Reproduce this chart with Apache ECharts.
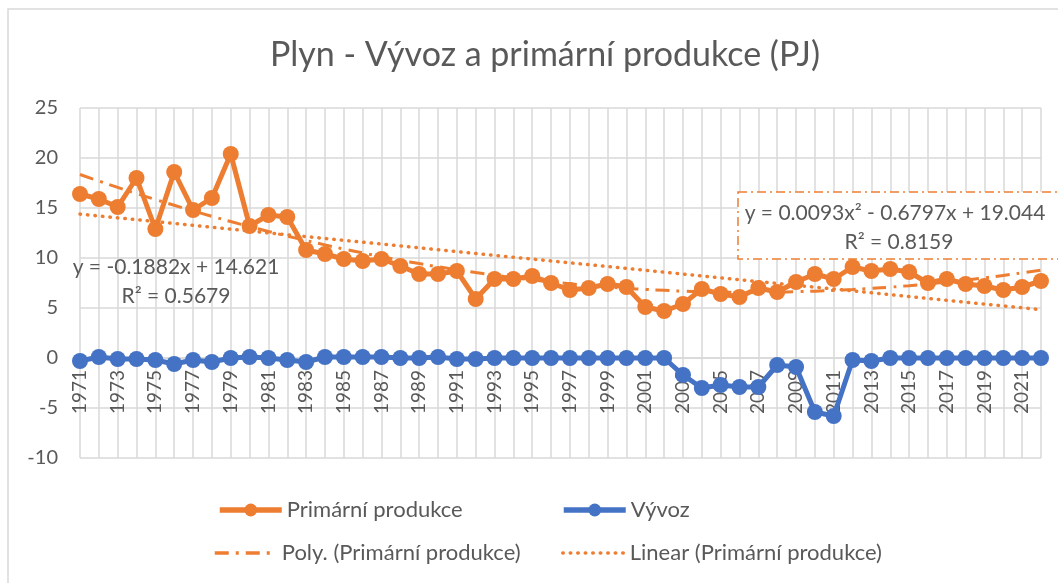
<!DOCTYPE html>
<html>
<head>
<meta charset="utf-8">
<script src="https://cdn.jsdelivr.net/npm/echarts@6/dist/echarts.min.js"></script>
<style>
  html, body { margin: 0; padding: 0; background: #fff; }
  #chart { width: 1058px; height: 583px; }
</style>
</head>
<body>
<div id="chart"></div>
<script>
// roky 1971 - 2022
var years = [];
for (var y = 1971; y <= 2022; y++) years.push(String(y));

// (PJ)
var produkce = [
  16.4, 15.9, 15.1, 18.0, 12.9, 18.6, 14.8, 16.0, 20.4, 13.2,
  14.3, 14.1, 10.8, 10.4, 9.9, 9.7, 9.9, 9.2, 8.4, 8.4,
  8.7, 5.9, 7.9, 7.9, 8.2, 7.5, 6.8, 7.0, 7.4, 7.1,
  5.1, 4.7, 5.4, 6.9, 6.4, 6.1, 7.0, 6.6, 7.6, 8.4,
  7.9, 9.1, 8.7, 8.9, 8.6, 7.5, 7.9, 7.4, 7.2, 6.8,
  7.1, 7.7
];
var vyvoz = [
  -0.3, 0.1, -0.1, -0.1, -0.2, -0.6, -0.2, -0.4, 0.0, 0.1,
  0.0, -0.2, -0.4, 0.1, 0.1, 0.1, 0.1, 0.0, 0.0, 0.1,
  -0.1, -0.1, 0.0, 0.0, 0.0, 0.0, 0.0, 0.0, 0.0, 0.0,
  0.0, 0.0, -1.7, -3.0, -2.7, -2.9, -2.9, -0.7, -0.9, -5.4,
  -5.8, -0.2, -0.3, 0.0, 0.0, 0.0, 0.0, 0.0, 0.0, 0.0,
  0.0, 0.0
];
var yTicks = [-10, -5, 0, 5, 10, 15, 20, 25];

var linText = ['y = -0.1882x + 14.621', 'R\u00b2 = 0.5679'];
var polyText = ['y = 0.0093x\u00b2 - 0.6797x + 19.044', 'R\u00b2 = 0.8159'];

// trendy spočtené z dat (nejmenší čtverce, x = 1..n jako v Excelu)
function fitLinear(v) {
  var n = v.length, sx = 0, sy = 0, sxx = 0, sxy = 0;
  for (var i = 0; i < n; i++) {
    var x = i + 1;
    sx += x; sy += v[i]; sxx += x * x; sxy += x * v[i];
  }
  var b = (n * sxy - sx * sy) / (n * sxx - sx * sx);
  var a = (sy - b * sx) / n;
  return v.map(function (_, i) { return +(a + b * (i + 1)).toFixed(3); });
}
function fitPoly2(v) {
  var n = v.length, s = [0, 0, 0, 0, 0], t = [0, 0, 0];
  for (var i = 0; i < n; i++) {
    var x = i + 1, p = 1;
    for (var k = 0; k < 5; k++) { s[k] += p; if (k < 3) t[k] += p * v[i]; p *= x; }
  }
  // soustava 3x3, Gauss
  var m = [
    [s[0], s[1], s[2], t[0]],
    [s[1], s[2], s[3], t[1]],
    [s[2], s[3], s[4], t[2]]
  ];
  for (var c = 0; c < 3; c++) {
    for (var r = c + 1; r < 3; r++) {
      var f = m[r][c] / m[c][c];
      for (var j = c; j < 4; j++) m[r][j] -= f * m[c][j];
    }
  }
  var coef = [0, 0, 0];
  for (var r2 = 2; r2 >= 0; r2--) {
    var sum = m[r2][3];
    for (var j2 = r2 + 1; j2 < 3; j2++) sum -= m[r2][j2] * coef[j2];
    coef[r2] = sum / m[r2][r2];
  }
  return v.map(function (_, i) {
    var x = i + 1;
    return +(coef[0] + coef[1] * x + coef[2] * x * x).toFixed(3);
  });
}

var linTrend = fitLinear(produkce);
var polyTrend = fitPoly2(produkce);

var orange = '#ED7D31';
var blue = '#4472C4';
var gray = '#595959';
var gridGray = '#d9d9d9';
var font = 'Lato, "Open Sans", sans-serif';

var myChart = echarts.init(document.getElementById('chart'));

function legendAt(name, left, top, hideSymbol) {
  var l = {
    data: [name],
    left: left, top: top,
    itemWidth: 62, itemHeight: 16,
    itemGap: 0,
    textStyle: { color: gray, fontSize: 22, fontFamily: font },
    selectedMode: false,
    lineStyle: { width: hideSymbol ? 3.5 : 5.5 }
  };
  if (hideSymbol) l.itemStyle = { color: 'rgba(0,0,0,0)', borderWidth: 0 };
  return l;
}

var option = {
  backgroundColor: '#fff',
  animation: false,
  textStyle: { fontFamily: font },
  title: {
    text: 'Plyn - Vývoz a primární produkce (PJ)',
    left: 540,
    textAlign: 'center',
    top: 33,
    textStyle: { color: gray, fontSize: 34, fontWeight: 'normal', fontFamily: font }
  },
  legend: [
    legendAt('Primární produkce', 212, 494),
    legendAt('Vývoz', 556, 494),
    legendAt('Poly. (Primární produkce)', 208, 537, true),
    legendAt('Linear (Primární produkce)', 556, 537, true)
  ],
  grid: { left: 80, right: 17, top: 108, bottom: 125 },
  xAxis: {
    type: 'category',
    data: years,
    boundaryGap: false,
    offset: -100,
    axisLine: { onZero: false, lineStyle: { color: gridGray, width: 1.5 } },
    axisTick: { show: false },
    axisLabel: {
      interval: 1,
      rotate: 90,
      margin: 12,
      color: gray,
      fontSize: 19,
      fontFamily: font
    },
    splitLine: { show: true, interval: 0, lineStyle: { color: gridGray, width: 1.5 } }
  },
  yAxis: {
    type: 'value',
    min: yTicks[0],
    max: yTicks[yTicks.length - 1],
    interval: 5,
    axisLine: { show: false },
    axisTick: { show: false },
    axisLabel: { color: gray, fontSize: 20, margin: 22, fontFamily: font },
    splitLine: { lineStyle: { color: gridGray, width: 1.5 } }
  },
  series: [
    {
      name: 'Poly. (Primární produkce)',
      type: 'line',
      data: polyTrend,
      showSymbol: false,
      symbol: 'none',
      smooth: true,
      z: 1,
      itemStyle: { color: orange },
      lineStyle: { color: orange, width: 3, type: [14, 7, 3, 7] }
    },
    {
      name: 'Linear (Primární produkce)',
      type: 'line',
      data: linTrend,
      showSymbol: false,
      symbol: 'none',
      z: 1,
      itemStyle: { color: orange },
      lineStyle: { color: orange, width: 3.5, type: [0.5, 7], cap: 'round' }
    },
    {
      name: 'Primární produkce',
      type: 'line',
      data: produkce,
      symbol: 'circle',
      symbolSize: 16,
      showAllSymbol: true,
      z: 3,
      itemStyle: { color: orange },
      lineStyle: { color: orange, width: 5 }
    },
    {
      name: 'Vývoz',
      type: 'line',
      data: vyvoz,
      symbol: 'circle',
      symbolSize: 16,
      showAllSymbol: true,
      z: 3,
      itemStyle: { color: blue },
      lineStyle: { color: blue, width: 5 }
    }
  ],
  graphic: [
    {
      type: 'rect',
      shape: { x: 8, y: 9, width: 1200, height: 800 },
      style: { fill: 'none', stroke: gridGray, lineWidth: 1.5 },
      silent: true
    },
    {
      type: 'text',
      x: 176, y: 267,
      style: { text: linText[0], fill: gray, fontSize: 21, fontFamily: font,
               align: 'center', verticalAlign: 'middle' },
      z: 10
    },
    {
      type: 'text',
      x: 176, y: 296,
      style: { text: linText[1], fill: gray, fontSize: 21, fontFamily: font,
               align: 'center', verticalAlign: 'middle' },
      z: 10
    },
    {
      type: 'rect',
      shape: { x: 738, y: 192, width: 330, height: 67 },
      style: { fill: '#fff', stroke: orange, lineWidth: 1.5, lineDash: [9, 4, 2, 4] },
      z: 9
    },
    {
      type: 'text',
      x: 895, y: 213,
      style: { text: polyText[0], fill: gray, fontSize: 21, fontFamily: font,
               align: 'center', verticalAlign: 'middle' },
      z: 10
    },
    {
      type: 'text',
      x: 899, y: 242,
      style: { text: polyText[1], fill: gray, fontSize: 21, fontFamily: font,
               align: 'center', verticalAlign: 'middle' },
      z: 10
    }
  ]
};

myChart.setOption(option);
</script>
</body>
</html>
